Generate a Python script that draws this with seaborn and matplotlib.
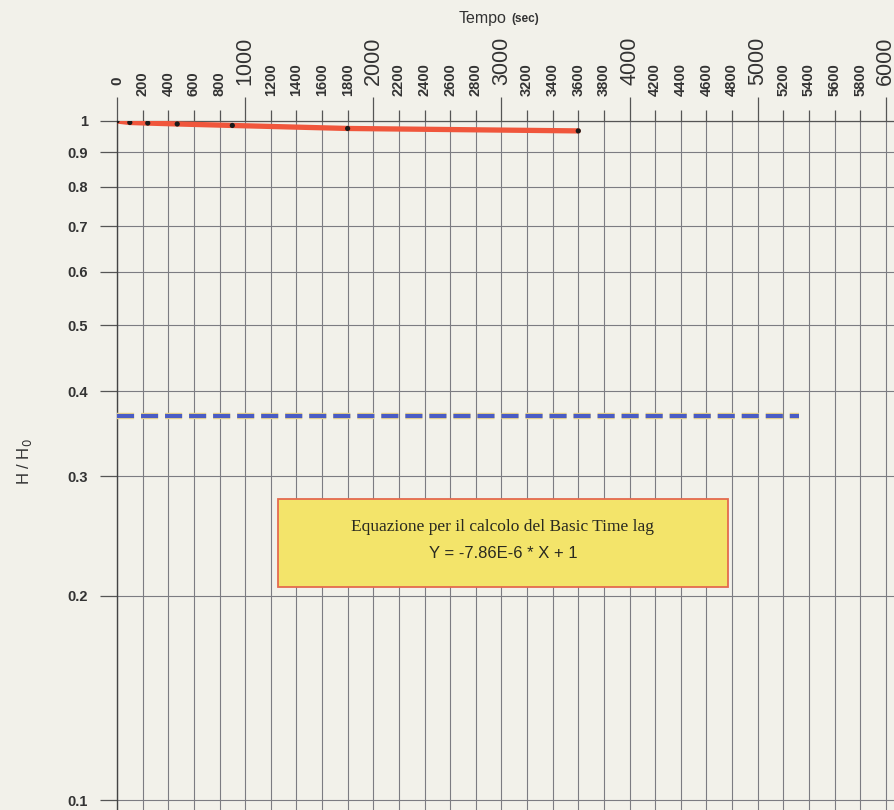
import matplotlib
matplotlib.use("Agg")
import matplotlib.pyplot as plt
import matplotlib.ticker as mticker
from matplotlib.patches import Rectangle
import seaborn as sns
import pandas as pd
import numpy as np

# ---- data ----
tempo = [0, 100, 240, 470, 900, 1800, 3600]
h_ratio = [1.0, 0.995, 0.993, 0.990, 0.985, 0.975, 0.967]
lag_x = [0, 5320]
lag_y = [0.368, 0.368]
y_ticks = [0.1, 0.2, 0.3, 0.4, 0.5, 0.6, 0.7, 0.8, 0.9, 1]
y_tick_labels = ["0.1", "0.2", "0.3", "0.4", "0.5", "0.6", "0.7", "0.8", "0.9", "1"]
x_major = [0, 1000, 2000, 3000, 4000, 5000, 6000]
x_minor = [v for v in range(200, 6000, 200) if v % 1000 != 0]
title_main = "Tempo"
title_unit = "(sec)"
ylabel = "H / H$_0$"
box_line1 = "Equazione per il calcolo del Basic Time lag"
box_line2 = "Y = -7.86E-6 * X + 1"

sns.set_style("white")
plt.rcParams["font.family"] = ["Liberation Sans", "DejaVu Sans"]
plt.rcParams["lines.scale_dashes"] = False

bg = "#f2f1ea"
fig = plt.figure(figsize=(8.95, 8.1), dpi=100, facecolor=bg)
ax = fig.add_axes([117 / 895, 0.0, 1 - 117 / 895, 1 - 121 / 810])
ax.set_facecolor(bg)

df = pd.DataFrame({"t": tempo, "h": h_ratio})
lag = pd.DataFrame({"t": lag_x, "h": lag_y})

# blue dashed 1/e line with faint yellow halo underneath
sns.lineplot(data=lag, x="t", y="h", ax=ax, color="#ecd68a", lw=4.6, zorder=3)
sns.lineplot(data=lag, x="t", y="h", ax=ax, color="#4a5cc4", lw=3, zorder=4)
for ln in ax.get_lines():
    ln.set_dashes((12.3, 5.0))
    ln.set_solid_capstyle("butt")
    ln.set_dash_capstyle("butt")

sns.lineplot(data=df, x="t", y="h", ax=ax, color="#f0563c", lw=3.8, zorder=5)
sns.scatterplot(data=df, x="t", y="h", ax=ax, color="#1a1a1a", s=14, zorder=6, edgecolor="none")

ax.set_yscale("log")
ax.set_ylim(10 ** (-(810 - 121) / 679), 1.0)
ax.set_xlim(0, 6072)

ax.yaxis.set_major_locator(mticker.FixedLocator(y_ticks))
ax.yaxis.set_major_formatter(mticker.FixedFormatter(y_tick_labels))
ax.yaxis.set_minor_locator(mticker.NullLocator())

ax.xaxis.tick_top()
ax.xaxis.set_major_locator(mticker.FixedLocator(x_major))
ax.xaxis.set_minor_locator(mticker.FixedLocator(x_minor))
ax.xaxis.set_major_formatter(mticker.FixedFormatter([str(v) for v in x_major]))
ax.xaxis.set_minor_formatter(mticker.FixedFormatter([str(v) for v in x_minor]))

ax.tick_params(axis="x", which="major", top=True, bottom=False, length=17, width=0.9,
               color="#555555", labelsize=15.5, labelrotation=90, pad=9, labelcolor="#333333")
ax.tick_params(axis="x", which="minor", top=True, bottom=False, length=8, width=0.9,
               color="#555555", labelsize=10.5, labelrotation=90, pad=10, labelcolor="#333333",
               labeltop=True)
ax.tick_params(axis="y", which="major", left=True, length=12, width=0.9, color="#555555",
               labelsize=10.5, pad=9, labelcolor="#333333")
for lab in ax.get_yticklabels():
    lab.set_fontweight("bold")
for lab in ax.get_xticklabels(minor=True):
    lab.set_fontweight("bold")
# the "0" label is drawn small like the minor labels
xl = ax.get_xticklabels()
xl[0].set_fontsize(11)
xl[0].set_fontweight("bold")

ax.grid(True, which="both", axis="x", color="#7c7c82", lw=0.8)
ax.grid(True, which="major", axis="y", color="#7c7c82", lw=0.8)
ax.set_axisbelow(True)

for s in ["right", "bottom"]:
    ax.spines[s].set_visible(False)
ax.spines["left"].set_color("#444444")
ax.spines["left"].set_linewidth(1.0)
ax.spines["top"].set_color("#555555")
ax.spines["top"].set_linewidth(0.9)

ax.set_xlabel("")
ax.set_ylabel("")

fig.text(25 / 895, 1 - 462 / 810, ylabel, rotation=90, ha="center", va="center",
         fontsize=12, color="#333333")
fig.text(507 / 895, 1 - 19 / 810, title_main, ha="right", va="center", fontsize=11.5,
         color="#333333")
fig.text(511 / 895, 1 - 19 / 810, title_unit, ha="left", va="center", fontsize=8.5,
         fontweight="bold", color="#333333")

# equation box
bx0, by0, bx1, by1 = 278, 499, 728, 587
fig.patches.append(Rectangle((bx0 / 895, 1 - by1 / 810), (bx1 - bx0) / 895, (by1 - by0) / 810,
                             transform=fig.transFigure, facecolor="#f3e46a",
                             edgecolor="#e46a4e", lw=1.3, zorder=10))
fig.text(503 / 895, 1 - 527 / 810, box_line1, ha="center", va="center", fontsize=12.5,
         family=["Liberation Serif", "DejaVu Serif"], color="#2a2a20", zorder=11)
fig.text(503 / 895, 1 - 554 / 810, box_line2, ha="center", va="center", fontsize=12,
         color="#2a2a20", zorder=11)

fig.savefig("out.png", dpi=100, facecolor=bg)
